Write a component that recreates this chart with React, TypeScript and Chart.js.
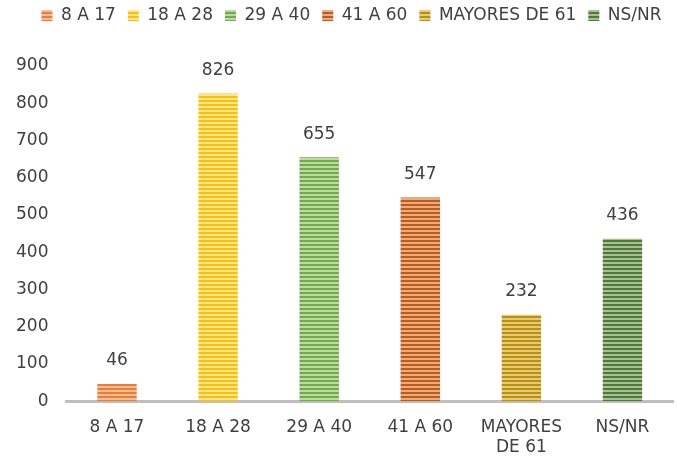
import React, { useEffect, useRef } from "react";
import { Chart, registerables } from "chart.js";

Chart.register(...registerables);

const categories: (string | string[])[] = ["8 A 17", "18 A 28", "29 A 40", "41 A 60", ["MAYORES", "DE 61"], "NS/NR"];
const legendNames = ["8 A 17", "18 A 28", "29 A 40", "41 A 60", "MAYORES DE 61", "NS/NR"];
const values = [46, 826, 655, 547, 232, 436];
const yTickMax = 900;
const yTickStep = 100;
const darkColors = ["#ED7D31", "#FFC000", "#70AD47", "#C55A11", "#BF9000", "#4E7A31"];
const lightColors = ["#F6BE98", "#FFE699", "#BCDAA8", "#E2AD88", "#E0CA85", "#A7BF98"];

const FONT = "'DejaVu Sans', sans-serif";
const FS = 17;
const TEXT = "#404040";

function makePattern(dark: string, light: string): CanvasPattern | string {
  const c = document.createElement("canvas");
  c.width = 4;
  c.height = 4;
  const ctx = c.getContext("2d");
  if (!ctx) return dark;
  ctx.fillStyle = light;
  ctx.fillRect(0, 0, 4, 4);
  ctx.fillStyle = dark;
  ctx.fillRect(0, 0, 4, 2);
  const p = ctx.createPattern(c, "repeat");
  return p || dark;
}

const valueLabels = {
  id: "valueLabels",
  beforeLayout(chart: any) {
    const lg = chart.legend;
    if (lg && !lg.__patched) {
      const origFit = lg.fit;
      lg.fit = function (this: any) {
        origFit.call(this);
        this.height = 71;
      };
      const origDraw = lg.draw;
      lg.draw = function (this: any, ...args: any[]) {
        const ctx = this.ctx;
        ctx.save();
        ctx.translate(16, 0);
        origDraw.apply(this, args);
        ctx.restore();
      };
      lg.__patched = true;
    }
  },
  afterDatasetsDraw(chart: any) {
    const ctx = chart.ctx;
    const meta = chart.getDatasetMeta(0);
    ctx.save();
    ctx.font = `${FS}px ${FONT}`;
    ctx.fillStyle = TEXT;
    ctx.textAlign = "center";
    ctx.textBaseline = "middle";
    meta.data.forEach((el: any, i: number) => {
      ctx.fillText(String(values[i]), el.x, el.y - 23);
    });
    ctx.restore();
  },
};

export default function App() {
  const ref = useRef<HTMLCanvasElement>(null);
  useEffect(() => {
    if (!ref.current) return;
    const patterns = darkColors.map((d, i) => makePattern(d, lightColors[i]));
    const chart = new Chart(ref.current, {
      type: "bar",
      data: {
        labels: categories,
        datasets: [
          {
            data: values,
            backgroundColor: patterns as any,
            borderWidth: 0,
            categoryPercentage: 1,
            barPercentage: 0.39,
          },
        ],
      },
      options: {
        animation: false,
        responsive: true,
        maintainAspectRatio: false,
        layout: { padding: { left: -2, right: 4, top: -5, bottom: -14 } },
        plugins: {
          tooltip: { enabled: false },
          legend: {
            position: "top",
            labels: {
              font: { family: FONT, size: FS },
              color: TEXT,
              boxWidth: 11,
              boxHeight: 11,
              padding: 12,
              generateLabels: () =>
                legendNames.map((n, i) => ({
                  text: n,
                  fillStyle: patterns[i] as any,
                  strokeStyle: "rgba(0,0,0,0)",
                  lineWidth: 0,
                  hidden: false,
                  index: i,
                  fontColor: TEXT,
                })),
            },
            onClick: () => {},
          },
        },
        scales: {
          x: {
            grid: { display: false, drawTicks: false },
            border: { display: true, color: "#BFBFBF", width: 3 },
            ticks: { font: { family: FONT, size: FS }, color: TEXT, padding: 16, maxRotation: 0, autoSkip: false },
          },
          y: {
            min: 0,
            max: yTickMax,
            grid: { display: false, drawTicks: false },
            border: { display: false },
            ticks: { stepSize: yTickStep, font: { family: FONT, size: FS }, color: TEXT, padding: 18 },
          },
        },
      },
      plugins: [valueLabels],
    });
    return () => chart.destroy();
  }, []);
  return (
    <div style={{ position: "fixed", left: 0, top: 0, width: 677, height: 460, background: "#fff" }}>
      <canvas ref={ref} />
    </div>
  );
}
